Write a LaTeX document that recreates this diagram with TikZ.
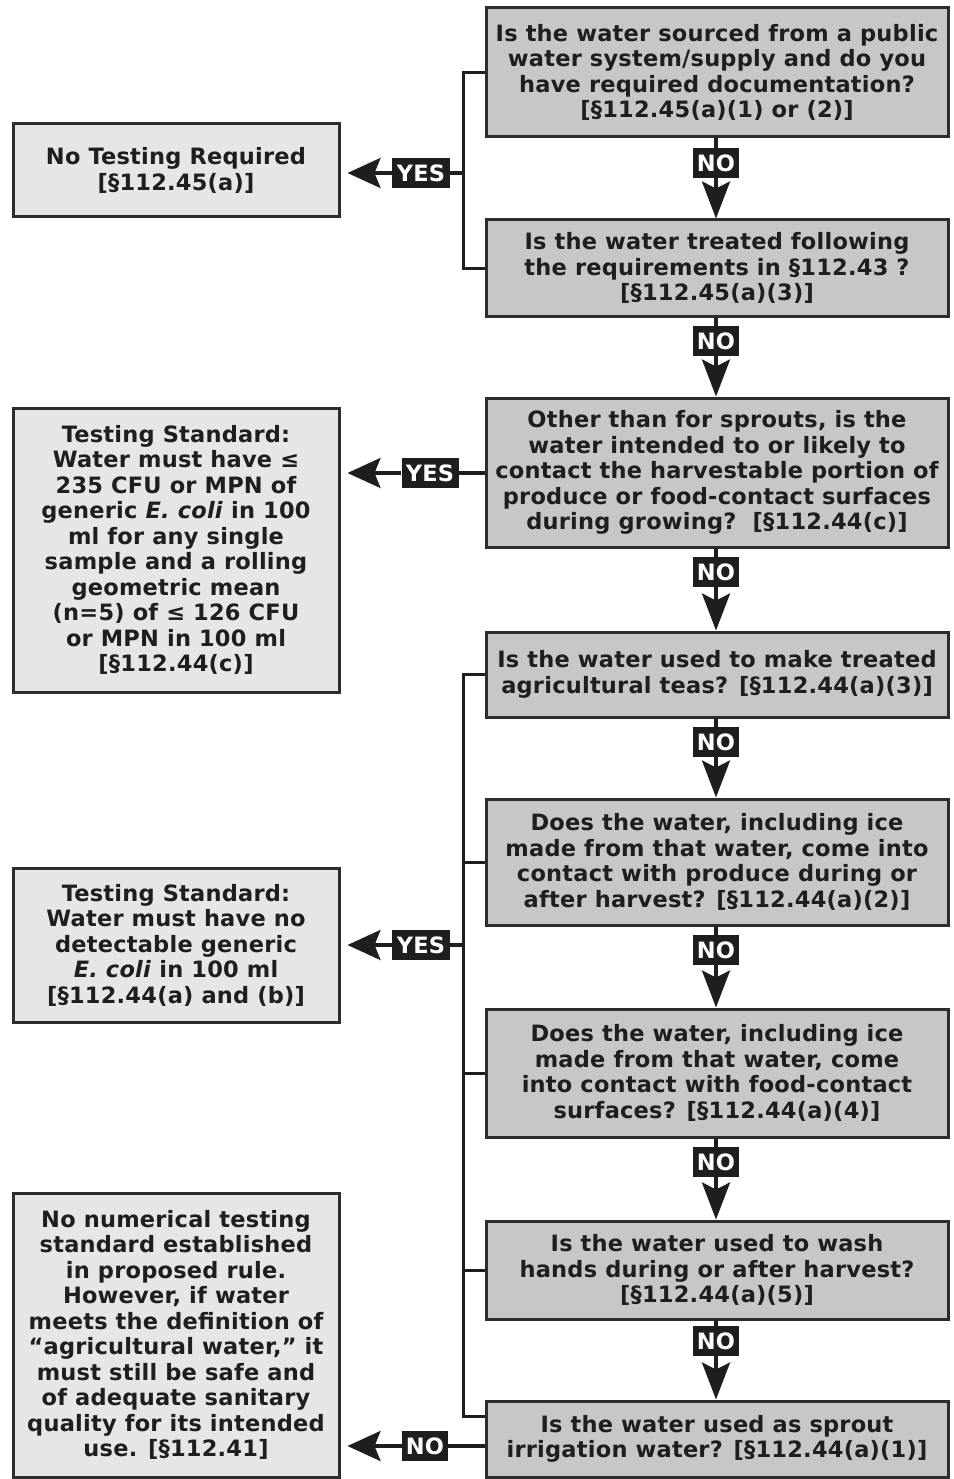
\documentclass[tikz,border=0pt]{standalone}
\usepackage{fontspec}
\setmainfont{DejaVu Sans}[LetterSpace=1.0]
\usetikzlibrary{arrows.meta,calc}
\definecolor{qfill}{RGB}{199,199,199}
\definecolor{afill}{RGB}{230,230,230}
\definecolor{edge}{RGB}{45,45,45}
\definecolor{ink}{RGB}{30,30,30}
\begin{document}
\begin{tikzpicture}[x=1pt,y=-1pt,
  box/.style={draw=edge,line width=3pt,inner sep=0pt,align=center,text=ink,
    font=\fontsize{22.5}{25.5}\selectfont\bfseries},
  qbox/.style={box,fill=qfill,minimum width=462pt},
  abox/.style={box,fill=afill,minimum width=326pt},
  lbl/.style={fill=ink,text=white,inner sep=0pt,minimum height=30pt,
    font=\fontsize{22.5}{24}\selectfont\bfseries},
  conn/.style={draw=ink,line width=3.5pt},
  varr/.style={conn,-{Stealth[length=37pt,width=28pt,inset=7pt]}},
  harr/.style={conn,-{Stealth[length=33pt,width=30pt,inset=6pt]},shorten >=7pt},
]
\useasboundingbox (0,0) rectangle (953,1479);
\fill[white] (0,0) rectangle (953,1479);

% question boxes
\node[qbox,minimum height=129pt] (q1) at (717,72.5) {Is the water sourced from a public\\water system/supply and do you\\have required documentation?\\{[}§112.45(a)(1) or (2)]};
\node[qbox,minimum height=96pt] (q2) at (717,268) {Is the water treated following\\the requirements in §112.43 ?\\{[}§112.45(a)(3)]};
\node[qbox,minimum height=149pt] (q3) at (717,472.5) {Other than for sprouts, is the\\water intended to or likely to\\contact the harvestable portion of\\produce or food-contact surfaces\\during growing?~~[§112.44(c)]};
\node[qbox,minimum height=85pt] (q4) at (717,674.5) {Is the water used to make treated\\agricultural teas? [§112.44(a)(3)]};
\node[qbox,minimum height=126pt] (q5) at (717,862) {Does the water, including ice\\made from that water, come into\\contact with produce during or\\after harvest? [§112.44(a)(2)]};
\node[qbox,minimum height=128pt] (q6) at (717,1073) {Does the water, including ice\\made from that water, come\\into contact with food-contact\\surfaces? [§112.44(a)(4)]};
\node[qbox,minimum height=98pt] (q7) at (717,1270) {Is the water used to wash\\hands during or after harvest?\\{[}§112.44(a)(5)]};
\node[qbox,minimum height=76pt] (q8) at (717,1439) {Is the water used as sprout\\irrigation water? [§112.44(a)(1)]};

% answer boxes
\node[abox,minimum height=93pt] (a1) at (176,170.5) {No Testing Required\\{[}§112.45(a)]};
\node[abox,minimum height=284pt] (a2) at (176,550) {Testing Standard:\\Water must have ≤\\235 CFU or MPN of\\generic \textit{E. coli} in 100\\ml for any single\\sample and a rolling\\geometric mean\\(n=5) of ≤ 126 CFU\\or MPN in 100 ml\\{[}§112.44(c)]};
\node[abox,minimum height=154pt] (a3) at (176,945) {Testing Standard:\\Water must have no\\detectable generic\\\textit{E. coli} in 100 ml\\{[}§112.44(a) and (b)]};
\node[abox,minimum height=284pt] (a4) at (176,1335) {No numerical testing\\standard established\\in proposed rule.\\However, if water\\meets the definition of\\“agricultural water,” it\\must still be safe and\\of adequate sanitary\\quality for its intended\\use. [§112.41]};

% vertical NO connectors
\foreach \i/\j/\y in {1/2/163,2/3/341,3/4/572,4/5/742,5/6/950,6/7/1162,7/8/1341}{
  \node[lbl,minimum width=46pt] (n\i) at (716,\y) {NO};
  \draw[conn] (q\i.south -| n\i) -- (n\i);
  \draw[varr] (n\i) -- (q\j.north -| n\i);
}

% bracket 1
\coordinate (j1) at (463,173);
\draw[conn,line width=3pt] (q1.west) -| (j1) |- (q2.west);
\node[lbl,minimum width=58pt] (y1) at (421,173) {YES};
\draw[conn] (j1) -- (y1);
\draw[harr] (y1) -- (y1 -| a1.east);

% q3 yes
\node[lbl,minimum width=57pt] (y2) at (430,473) {YES};
\draw[conn] (q3.west |- y2) -- (y2);
\draw[harr] (y2) -- (y2 -| a2.east);

% bracket 2
\coordinate (j2) at (463,945);
\coordinate (k8) at ($(q8.north west)+(0,17)$);
\draw[conn,line width=3pt] (q4.west) -| (j2) |- (k8);
\draw[conn,line width=3pt] (q5.west) -- (q5.west -| j2);
\draw[conn,line width=3pt] (q6.west) -- (q6.west -| j2);
\draw[conn,line width=3pt] (q7.west) -- (q7.west -| j2);
\node[lbl,minimum width=58pt] (y3) at (421,945) {YES};
\draw[conn] (j2) -- (y3);
\draw[harr] (y3) -- (y3 -| a3.east);

% q8 no
\node[lbl,minimum width=46pt] (n8) at (425,1446) {NO};
\draw[conn] (q8.west |- n8) -- (n8);
\draw[harr] (n8) -- (n8 -| a4.east);
\end{tikzpicture}
\end{document}
